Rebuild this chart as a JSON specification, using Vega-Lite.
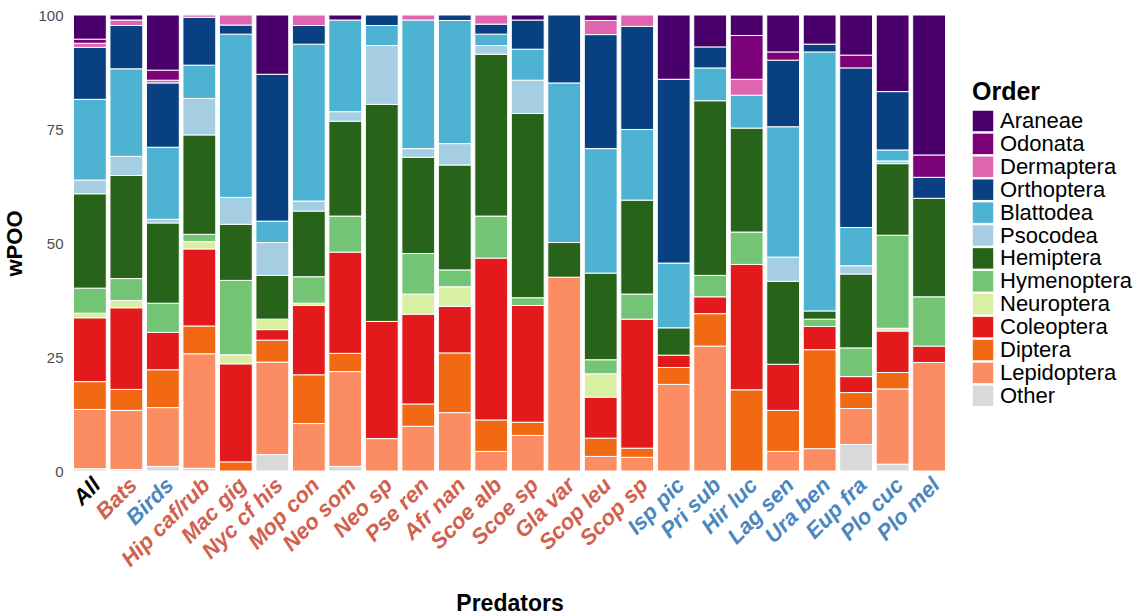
{
  "$schema": "https://vega.github.io/schema/vega-lite/v6.json",
  "width": 883,
  "height": 456,
  "autosize": {"type": "none"},
  "padding": {"left": 68, "top": 15, "right": 194, "bottom": 145},
  "background": "white",
  "config": {"view": {"stroke": null}, "font": "Liberation Sans"},
  "datasets": {
    "d": [
      {"p":"All","o":"Other","v":0.5},{"p":"All","o":"Lepidoptera","v":13.0},{"p":"All","o":"Diptera","v":6.1},{"p":"All","o":"Coleoptera","v":14.0},{"p":"All","o":"Neuroptera","v":1.0},{"p":"All","o":"Hymenoptera","v":5.5},{"p":"All","o":"Hemiptera","v":20.7},{"p":"All","o":"Psocodea","v":3.0},{"p":"All","o":"Blattodea","v":17.7},{"p":"All","o":"Orthoptera","v":11.4},{"p":"All","o":"Dermaptera","v":0.9},{"p":"All","o":"Odonata","v":0.9},{"p":"All","o":"Araneae","v":5.3},
      {"p":"Bats","o":"Other","v":0.3},{"p":"Bats","o":"Lepidoptera","v":13.0},{"p":"Bats","o":"Diptera","v":4.6},{"p":"Bats","o":"Coleoptera","v":17.9},{"p":"Bats","o":"Neuroptera","v":1.6},{"p":"Bats","o":"Hymenoptera","v":4.8},{"p":"Bats","o":"Hemiptera","v":22.6},{"p":"Bats","o":"Psocodea","v":4.2},{"p":"Bats","o":"Blattodea","v":19.2},{"p":"Bats","o":"Orthoptera","v":9.5},{"p":"Bats","o":"Dermaptera","v":1.2},{"p":"Bats","o":"Araneae","v":1.1},
      {"p":"Birds","o":"Other","v":1.0},{"p":"Birds","o":"Lepidoptera","v":12.9},{"p":"Birds","o":"Diptera","v":8.3},{"p":"Birds","o":"Coleoptera","v":8.2},{"p":"Birds","o":"Hymenoptera","v":6.4},{"p":"Birds","o":"Hemiptera","v":17.6},{"p":"Birds","o":"Psocodea","v":0.8},{"p":"Birds","o":"Blattodea","v":15.8},{"p":"Birds","o":"Orthoptera","v":14.1},{"p":"Birds","o":"Dermaptera","v":0.6},{"p":"Birds","o":"Odonata","v":2.2},{"p":"Birds","o":"Araneae","v":12.1},
      {"p":"Hip caf/rub","o":"Other","v":0.6},{"p":"Hip caf/rub","o":"Lepidoptera","v":25.1},{"p":"Hip caf/rub","o":"Diptera","v":6.1},{"p":"Hip caf/rub","o":"Coleoptera","v":16.9},{"p":"Hip caf/rub","o":"Neuroptera","v":1.6},{"p":"Hip caf/rub","o":"Hymenoptera","v":1.6},{"p":"Hip caf/rub","o":"Hemiptera","v":21.8},{"p":"Hip caf/rub","o":"Psocodea","v":8.0},{"p":"Hip caf/rub","o":"Blattodea","v":7.3},{"p":"Hip caf/rub","o":"Orthoptera","v":10.5},{"p":"Hip caf/rub","o":"Dermaptera","v":0.5},
      {"p":"Mac gig","o":"Diptera","v":2.0},{"p":"Mac gig","o":"Coleoptera","v":21.5},{"p":"Mac gig","o":"Neuroptera","v":2.0},{"p":"Mac gig","o":"Hymenoptera","v":16.3},{"p":"Mac gig","o":"Hemiptera","v":12.3},{"p":"Mac gig","o":"Psocodea","v":5.9},{"p":"Mac gig","o":"Blattodea","v":35.8},{"p":"Mac gig","o":"Orthoptera","v":2.0},{"p":"Mac gig","o":"Dermaptera","v":2.2},
      {"p":"Nyc cf his","o":"Other","v":3.6},{"p":"Nyc cf his","o":"Lepidoptera","v":20.3},{"p":"Nyc cf his","o":"Diptera","v":4.8},{"p":"Nyc cf his","o":"Coleoptera","v":2.3},{"p":"Nyc cf his","o":"Neuroptera","v":2.3},{"p":"Nyc cf his","o":"Hemiptera","v":9.6},{"p":"Nyc cf his","o":"Psocodea","v":7.2},{"p":"Nyc cf his","o":"Blattodea","v":4.7},{"p":"Nyc cf his","o":"Orthoptera","v":32.2},{"p":"Nyc cf his","o":"Araneae","v":13.0},
      {"p":"Mop con","o":"Lepidoptera","v":10.4},{"p":"Mop con","o":"Diptera","v":10.7},{"p":"Mop con","o":"Coleoptera","v":15.2},{"p":"Mop con","o":"Neuroptera","v":0.5},{"p":"Mop con","o":"Hymenoptera","v":5.8},{"p":"Mop con","o":"Hemiptera","v":14.4},{"p":"Mop con","o":"Psocodea","v":2.2},{"p":"Mop con","o":"Blattodea","v":34.4},{"p":"Mop con","o":"Orthoptera","v":4.1},{"p":"Mop con","o":"Dermaptera","v":2.3},
      {"p":"Neo som","o":"Other","v":1.0},{"p":"Neo som","o":"Lepidoptera","v":20.8},{"p":"Neo som","o":"Diptera","v":4.0},{"p":"Neo som","o":"Coleoptera","v":22.2},{"p":"Neo som","o":"Hymenoptera","v":7.9},{"p":"Neo som","o":"Hemiptera","v":20.8},{"p":"Neo som","o":"Psocodea","v":2.1},{"p":"Neo som","o":"Blattodea","v":20.1},{"p":"Neo som","o":"Araneae","v":1.1},
      {"p":"Neo sp","o":"Lepidoptera","v":7.1},{"p":"Neo sp","o":"Coleoptera","v":25.7},{"p":"Neo sp","o":"Hemiptera","v":47.6},{"p":"Neo sp","o":"Psocodea","v":12.9},{"p":"Neo sp","o":"Blattodea","v":4.4},{"p":"Neo sp","o":"Orthoptera","v":2.3},
      {"p":"Pse ren","o":"Lepidoptera","v":9.8},{"p":"Pse ren","o":"Diptera","v":4.9},{"p":"Pse ren","o":"Coleoptera","v":19.7},{"p":"Pse ren","o":"Neuroptera","v":4.4},{"p":"Pse ren","o":"Hymenoptera","v":8.9},{"p":"Pse ren","o":"Hemiptera","v":21.1},{"p":"Pse ren","o":"Psocodea","v":1.9},{"p":"Pse ren","o":"Blattodea","v":28.2},{"p":"Pse ren","o":"Dermaptera","v":1.1},
      {"p":"Afr nan","o":"Lepidoptera","v":12.8},{"p":"Afr nan","o":"Diptera","v":13.1},{"p":"Afr nan","o":"Coleoptera","v":10.2},{"p":"Afr nan","o":"Neuroptera","v":4.3},{"p":"Afr nan","o":"Hymenoptera","v":3.7},{"p":"Afr nan","o":"Hemiptera","v":23.0},{"p":"Afr nan","o":"Psocodea","v":4.7},{"p":"Afr nan","o":"Blattodea","v":27.0},{"p":"Afr nan","o":"Orthoptera","v":1.2},
      {"p":"Scoe alb","o":"Lepidoptera","v":4.3},{"p":"Scoe alb","o":"Diptera","v":6.9},{"p":"Scoe alb","o":"Coleoptera","v":35.5},{"p":"Scoe alb","o":"Hymenoptera","v":9.2},{"p":"Scoe alb","o":"Hemiptera","v":35.5},{"p":"Scoe alb","o":"Psocodea","v":1.9},{"p":"Scoe alb","o":"Blattodea","v":2.5},{"p":"Scoe alb","o":"Orthoptera","v":2.2},{"p":"Scoe alb","o":"Dermaptera","v":2.0},
      {"p":"Scoe sp","o":"Lepidoptera","v":7.8},{"p":"Scoe sp","o":"Diptera","v":2.9},{"p":"Scoe sp","o":"Coleoptera","v":25.6},{"p":"Scoe sp","o":"Hymenoptera","v":1.7},{"p":"Scoe sp","o":"Hemiptera","v":40.4},{"p":"Scoe sp","o":"Psocodea","v":7.3},{"p":"Scoe sp","o":"Blattodea","v":6.8},{"p":"Scoe sp","o":"Orthoptera","v":6.4},{"p":"Scoe sp","o":"Araneae","v":1.1},
      {"p":"Gla var","o":"Lepidoptera","v":42.5},{"p":"Gla var","o":"Hemiptera","v":7.6},{"p":"Gla var","o":"Blattodea","v":35.0},{"p":"Gla var","o":"Orthoptera","v":14.9},
      {"p":"Scop leu","o":"Lepidoptera","v":3.2},{"p":"Scop leu","o":"Diptera","v":4.0},{"p":"Scop leu","o":"Coleoptera","v":9.0},{"p":"Scop leu","o":"Neuroptera","v":5.1},{"p":"Scop leu","o":"Hymenoptera","v":3.1},{"p":"Scop leu","o":"Hemiptera","v":19.0},{"p":"Scop leu","o":"Blattodea","v":27.3},{"p":"Scop leu","o":"Orthoptera","v":25.0},{"p":"Scop leu","o":"Dermaptera","v":3.1},{"p":"Scop leu","o":"Odonata","v":1.2},
      {"p":"Scop sp","o":"Lepidoptera","v":3.0},{"p":"Scop sp","o":"Diptera","v":2.0},{"p":"Scop sp","o":"Coleoptera","v":28.3},{"p":"Scop sp","o":"Hymenoptera","v":5.5},{"p":"Scop sp","o":"Hemiptera","v":20.6},{"p":"Scop sp","o":"Blattodea","v":15.5},{"p":"Scop sp","o":"Orthoptera","v":22.6},{"p":"Scop sp","o":"Dermaptera","v":2.5},
      {"p":"Isp pic","o":"Lepidoptera","v":19.0},{"p":"Isp pic","o":"Diptera","v":3.7},{"p":"Isp pic","o":"Coleoptera","v":2.7},{"p":"Isp pic","o":"Hemiptera","v":6.0},{"p":"Isp pic","o":"Blattodea","v":14.2},{"p":"Isp pic","o":"Orthoptera","v":40.3},{"p":"Isp pic","o":"Araneae","v":14.1},
      {"p":"Pri sub","o":"Lepidoptera","v":27.4},{"p":"Pri sub","o":"Diptera","v":7.1},{"p":"Pri sub","o":"Coleoptera","v":3.7},{"p":"Pri sub","o":"Hymenoptera","v":4.7},{"p":"Pri sub","o":"Hemiptera","v":38.3},{"p":"Pri sub","o":"Blattodea","v":7.2},{"p":"Pri sub","o":"Orthoptera","v":4.6},{"p":"Pri sub","o":"Araneae","v":7.0},
      {"p":"Hir luc","o":"Diptera","v":17.8},{"p":"Hir luc","o":"Coleoptera","v":27.5},{"p":"Hir luc","o":"Hymenoptera","v":7.1},{"p":"Hir luc","o":"Hemiptera","v":22.8},{"p":"Hir luc","o":"Blattodea","v":7.2},{"p":"Hir luc","o":"Dermaptera","v":3.5},{"p":"Hir luc","o":"Odonata","v":9.6},{"p":"Hir luc","o":"Araneae","v":4.5},
      {"p":"Lag sen","o":"Lepidoptera","v":4.3},{"p":"Lag sen","o":"Diptera","v":9.0},{"p":"Lag sen","o":"Coleoptera","v":10.1},{"p":"Lag sen","o":"Hemiptera","v":18.2},{"p":"Lag sen","o":"Psocodea","v":5.3},{"p":"Lag sen","o":"Blattodea","v":28.6},{"p":"Lag sen","o":"Orthoptera","v":14.6},{"p":"Lag sen","o":"Odonata","v":1.8},{"p":"Lag sen","o":"Araneae","v":8.1},
      {"p":"Ura ben","o":"Lepidoptera","v":4.9},{"p":"Ura ben","o":"Diptera","v":21.7},{"p":"Ura ben","o":"Coleoptera","v":5.1},{"p":"Ura ben","o":"Hymenoptera","v":1.6},{"p":"Ura ben","o":"Hemiptera","v":1.8},{"p":"Ura ben","o":"Blattodea","v":56.8},{"p":"Ura ben","o":"Orthoptera","v":1.7},{"p":"Ura ben","o":"Araneae","v":6.4},
      {"p":"Eup fra","o":"Other","v":5.8},{"p":"Eup fra","o":"Lepidoptera","v":7.9},{"p":"Eup fra","o":"Diptera","v":3.5},{"p":"Eup fra","o":"Coleoptera","v":3.5},{"p":"Eup fra","o":"Hymenoptera","v":6.3},{"p":"Eup fra","o":"Hemiptera","v":16.2},{"p":"Eup fra","o":"Psocodea","v":1.8},{"p":"Eup fra","o":"Blattodea","v":8.4},{"p":"Eup fra","o":"Orthoptera","v":35.0},{"p":"Eup fra","o":"Odonata","v":2.8},{"p":"Eup fra","o":"Araneae","v":8.8},
      {"p":"Plo cuc","o":"Other","v":1.5},{"p":"Plo cuc","o":"Lepidoptera","v":16.5},{"p":"Plo cuc","o":"Diptera","v":3.6},{"p":"Plo cuc","o":"Coleoptera","v":9.1},{"p":"Plo cuc","o":"Neuroptera","v":0.6},{"p":"Plo cuc","o":"Hymenoptera","v":20.4},{"p":"Plo cuc","o":"Hemiptera","v":15.7},{"p":"Plo cuc","o":"Psocodea","v":0.6},{"p":"Plo cuc","o":"Blattodea","v":2.4},{"p":"Plo cuc","o":"Orthoptera","v":12.8},{"p":"Plo cuc","o":"Araneae","v":16.8},
      {"p":"Plo mel","o":"Lepidoptera","v":23.8},{"p":"Plo mel","o":"Coleoptera","v":3.6},{"p":"Plo mel","o":"Hymenoptera","v":10.8},{"p":"Plo mel","o":"Hemiptera","v":21.6},{"p":"Plo mel","o":"Orthoptera","v":4.6},{"p":"Plo mel","o":"Odonata","v":4.9},{"p":"Plo mel","o":"Araneae","v":30.7}
    ]
  },
  "data": {"name": "d"},
  "transform": [
    {"calculate": "indexof(['Other','Lepidoptera','Diptera','Coleoptera','Neuroptera','Hymenoptera','Hemiptera','Psocodea','Blattodea','Orthoptera','Dermaptera','Odonata','Araneae'], datum.o)", "as": "k"}
  ],
  "mark": {"type": "bar", "stroke": "white", "strokeWidth": 1},
  "encoding": {
    "x": {
      "field": "p", "type": "nominal",
      "sort": ["All","Bats","Birds","Hip caf/rub","Mac gig","Nyc cf his","Mop con","Neo som","Neo sp","Pse ren","Afr nan","Scoe alb","Scoe sp","Gla var","Scop leu","Scop sp","Isp pic","Pri sub","Hir luc","Lag sen","Ura ben","Eup fra","Plo cuc","Plo mel"],
      "scale": {"paddingInner": 0.1, "paddingOuter": 0.15},
      "axis": {
        "title": "Predators", "titleFont": "Liberation Sans", "titleFontSize": 23, "titleFontWeight": "bold", "titleColor": "black", "titlePadding": 22,
        "labelAngle": -45, "labelFont": "Liberation Sans", "labelFontSize": 22, "labelFontWeight": "bold", "labelFontStyle": "italic",
        "labelPadding": 3, "labelDx": 5, "ticks": false, "domain": false, "grid": false,
        "labelColor": {
          "condition": [
            {"test": "datum.value == 'All'", "value": "black"},
            {"test": "indexof(['Birds','Isp pic','Pri sub','Hir luc','Lag sen','Ura ben','Eup fra','Plo cuc','Plo mel'], datum.value) >= 0", "value": "#4b87bf"}
          ],
          "value": "#d1604c"
        }
      }
    },
    "y": {
      "field": "v", "type": "quantitative", "stack": "zero",
      "scale": {"domain": [0, 100], "nice": false},
      "axis": {
        "title": "wPOO", "titleFont": "Liberation Sans", "titleFontSize": 22, "titleFontWeight": "bold", "titleColor": "black", "titlePadding": 11,
        "values": [0, 25, 50, 75, 100], "labelFont": "Liberation Sans", "labelFontSize": 15, "labelColor": "#4d4d4d", "labelPadding": 5,
        "ticks": false, "domain": false, "grid": false
      }
    },
    "color": {
      "field": "o", "type": "nominal",
      "scale": {
        "domain": ["Araneae","Odonata","Dermaptera","Orthoptera","Blattodea","Psocodea","Hemiptera","Hymenoptera","Neuroptera","Coleoptera","Diptera","Lepidoptera","Other"],
        "range": ["#49006a","#7a0177","#df65b0","#084081","#4eb3d3","#a6cee3","#276419","#74c476","#d9f0a3","#e31a1c","#f16913","#fc8d62","#d9d9d9"]
      },
      "legend": {
        "title": "Order", "orient": "none", "legendX": 904, "legendY": 65,
        "titleFont": "Liberation Sans", "titleFontSize": 25, "titleFontWeight": "bold", "titleColor": "black", "titlePadding": 5,
        "labelFont": "Liberation Sans", "labelFontSize": 22, "labelColor": "black", "labelOffset": 6,
        "symbolType": "square", "symbolSize": 420, "symbolStrokeWidth": 0, "symbolOpacity": 1, "rowPadding": 0.9
      }
    },
    "order": {"field": "k", "type": "quantitative", "sort": "ascending"}
  }
}
